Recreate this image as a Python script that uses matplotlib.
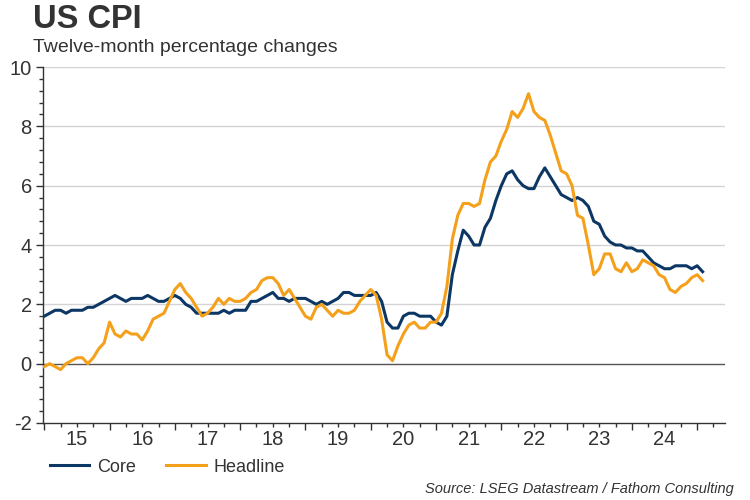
#!/usr/bin/env python

import numpy as np
import matplotlib
matplotlib.use("Agg")
import matplotlib.pyplot as plt
from matplotlib.ticker import MultipleLocator, FixedLocator, NullFormatter

plt.rcParams['font.family'] = ['Liberation Sans', 'DejaVu Sans']
plt.rcParams['axes.unicode_minus'] = False

# monthly, Jan 2015 .. Feb 2025
start_year = 2015
headline = [
    -0.1, 0.0, -0.1, -0.2, 0.0, 0.1, 0.2, 0.2, 0.0, 0.2, 0.5, 0.7,   # 2015
    1.4, 1.0, 0.9, 1.1, 1.0, 1.0, 0.8, 1.1, 1.5, 1.6, 1.7, 2.1,      # 2016
    2.5, 2.7, 2.4, 2.2, 1.9, 1.6, 1.7, 1.9, 2.2, 2.0, 2.2, 2.1,      # 2017
    2.1, 2.2, 2.4, 2.5, 2.8, 2.9, 2.9, 2.7, 2.3, 2.5, 2.2, 1.9,      # 2018
    1.6, 1.5, 1.9, 2.0, 1.8, 1.6, 1.8, 1.7, 1.7, 1.8, 2.1, 2.3,      # 2019
    2.5, 2.3, 1.5, 0.3, 0.1, 0.6, 1.0, 1.3, 1.4, 1.2, 1.2, 1.4,      # 2020
    1.4, 1.7, 2.6, 4.2, 5.0, 5.4, 5.4, 5.3, 5.4, 6.2, 6.8, 7.0,      # 2021
    7.5, 7.9, 8.5, 8.3, 8.6, 9.1, 8.5, 8.3, 8.2, 7.7, 7.1, 6.5,      # 2022
    6.4, 6.0, 5.0, 4.9, 4.0, 3.0, 3.2, 3.7, 3.7, 3.2, 3.1, 3.4,      # 2023
    3.1, 3.2, 3.5, 3.4, 3.3, 3.0, 2.9, 2.5, 2.4, 2.6, 2.7, 2.9,      # 2024
    3.0, 2.8,                                                        # 2025
]
core = [
    1.6, 1.7, 1.8, 1.8, 1.7, 1.8, 1.8, 1.8, 1.9, 1.9, 2.0, 2.1,
    2.2, 2.3, 2.2, 2.1, 2.2, 2.2, 2.2, 2.3, 2.2, 2.1, 2.1, 2.2,
    2.3, 2.2, 2.0, 1.9, 1.7, 1.7, 1.7, 1.7, 1.7, 1.8, 1.7, 1.8,
    1.8, 1.8, 2.1, 2.1, 2.2, 2.3, 2.4, 2.2, 2.2, 2.1, 2.2, 2.2,
    2.2, 2.1, 2.0, 2.1, 2.0, 2.1, 2.2, 2.4, 2.4, 2.3, 2.3, 2.3,
    2.3, 2.4, 2.1, 1.4, 1.2, 1.2, 1.6, 1.7, 1.7, 1.6, 1.6, 1.6,
    1.4, 1.3, 1.6, 3.0, 3.8, 4.5, 4.3, 4.0, 4.0, 4.6, 4.9, 5.5,
    6.0, 6.4, 6.5, 6.2, 6.0, 5.9, 5.9, 6.3, 6.6, 6.3, 6.0, 5.7,
    5.6, 5.5, 5.6, 5.5, 5.3, 4.8, 4.7, 4.3, 4.1, 4.0, 4.0, 3.9,
    3.9, 3.8, 3.8, 3.6, 3.4, 3.3, 3.2, 3.2, 3.3, 3.3, 3.3, 3.2,
    3.3, 3.1,
]
year_labels = ["15", "16", "17", "18", "19", "20", "21", "22", "23", "24"]

t = start_year + np.arange(len(core)) / 12.0

navy = "#0c3764"
orange = "#f5a01a"
txtc = "#333333"

fig = plt.figure(figsize=(7.5, 5), dpi=100)
ax = fig.add_axes([0.0573, 0.154, 0.9097, 0.712])

ax.plot(t, core, color=navy, lw=2.2, label="Core", zorder=3)
ax.plot(t, headline, color=orange, lw=2.2, label="Headline", zorder=4)

ax.set_xlim(2014.98, 2025.43)
ax.set_ylim(-2, 10)

for y in [2, 4, 6, 8, 10]:
    ax.axhline(y, color="#d3d3d3", lw=1.0, zorder=1)
ax.axhline(0, color="#555555", lw=1.0, zorder=2)

ax.yaxis.set_major_locator(MultipleLocator(2))
ax.yaxis.set_minor_locator(MultipleLocator(0.4))
ax.xaxis.set_major_locator(FixedLocator(np.arange(2015, 2026)))
ax.xaxis.set_major_formatter(NullFormatter())
ax.xaxis.set_minor_locator(MultipleLocator(0.25))
ax.tick_params(axis="both", which="both", direction="out", color=txtc,
               labelsize=14.5, labelcolor=txtc)
ax.tick_params(axis="both", which="major", length=5, width=1)
ax.tick_params(axis="both", which="minor", length=3, width=1)
ax.tick_params(axis="y", which="major", pad=3)
for i, lab in enumerate(year_labels):
    ax.text(2015.5 + i, -2.57, lab, ha="center", va="center", fontsize=14.5,
            color=txtc)

for s in ["top", "right"]:
    ax.spines[s].set_visible(False)
for s in ["left", "bottom"]:
    ax.spines[s].set_color(txtc)
    ax.spines[s].set_linewidth(1)

fig.text(0.044, 0.962, "US CPI", fontsize=23.5, fontweight="bold",
         color=txtc, va="center")
fig.text(0.044, 0.906, "Twelve-month percentage changes", fontsize=14,
         color=txtc, va="center")

leg = fig.legend(loc="center left", bbox_to_anchor=(0.066, 0.066), ncol=2,
                 frameon=False, fontsize=13, handlelength=2.2,
                 columnspacing=1.65, handletextpad=0.45, borderpad=0,
                 borderaxespad=0)
for txt in leg.get_texts():
    txt.set_color(txtc)

fig.text(0.978, 0.022, "Source: LSEG Datastream / Fathom Consulting",
         fontsize=10.5, style="italic", color=txtc, ha="right",
         va="center")

plt.savefig("out.png", dpi=100)
